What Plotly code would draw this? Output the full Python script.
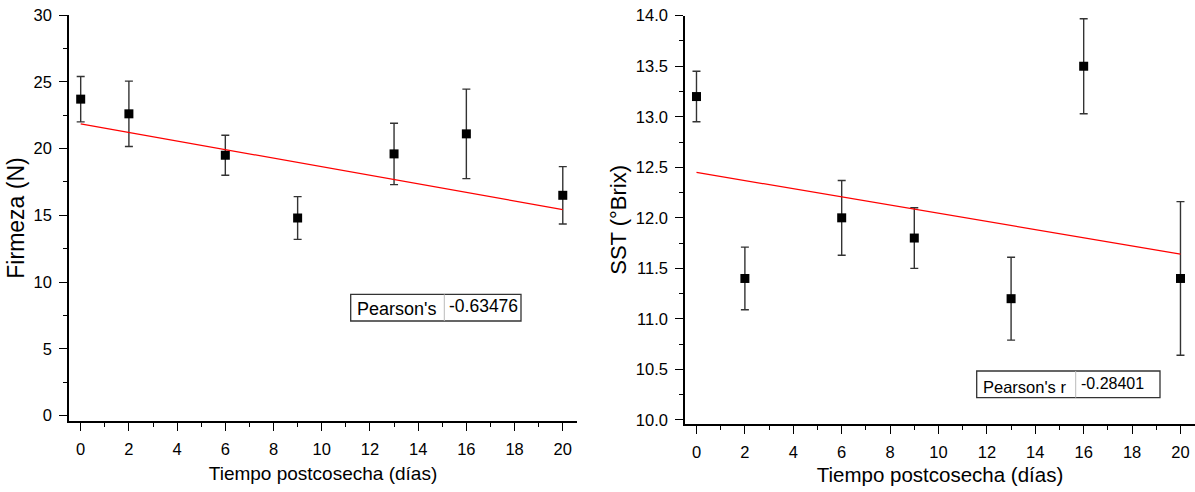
import plotly.graph_objects as go

# ---------------- data ----------------
days = [0, 2, 6, 9, 13, 16, 20]

firmeza = [23.7, 22.6, 19.5, 14.8, 19.6, 21.1, 16.5]
firmeza_err = [1.7, 2.45, 1.5, 1.6, 2.3, 3.35, 2.15]
firmeza_fit = {"intercept": 21.85, "slope": -0.321}
firmeza_r = "-0.63476"

sst = [13.2, 11.4, 12.0, 11.8, 11.2, 13.5, 11.4]
sst_err = [0.25, 0.31, 0.37, 0.30, 0.41, 0.47, 0.76]
sst_fit = {"intercept": 12.45, "slope": -0.0405}
sst_r = "-0.28401"

x_ticks = [0, 2, 4, 6, 8, 10, 12, 14, 16, 18, 20]
firmeza_ticks = [0, 5, 10, 15, 20, 25, 30]
sst_ticks = [10.0, 10.5, 11.0, 11.5, 12.0, 12.5, 13.0, 13.5, 14.0]

W, H = 1195, 492
FONT = "Liberation Sans, Arial, sans-serif"


def px(x):
    return x / W


def py(y):
    return 1 - y / H


fig = go.Figure()

fit_x = [min(days), max(days)]

# left panel
fig.add_trace(go.Scatter(
    x=days, y=firmeza, mode="markers",
    marker=dict(symbol="square", size=9, color="black"),
    error_y=dict(type="data", array=firmeza_err, visible=True,
                 color="#333", thickness=1.4, width=4),
    xaxis="x", yaxis="y", showlegend=False, cliponaxis=False))
fig.add_trace(go.Scatter(
    x=fit_x,
    y=[firmeza_fit["intercept"] + firmeza_fit["slope"] * v for v in fit_x],
    mode="lines", line=dict(color="red", width=1.2),
    xaxis="x", yaxis="y", showlegend=False))

# right panel
fig.add_trace(go.Scatter(
    x=days, y=sst, mode="markers",
    marker=dict(symbol="square", size=9, color="black"),
    error_y=dict(type="data", array=sst_err, visible=True,
                 color="#333", thickness=1.4, width=4),
    xaxis="x2", yaxis="y2", showlegend=False, cliponaxis=False))
fig.add_trace(go.Scatter(
    x=fit_x,
    y=[sst_fit["intercept"] + sst_fit["slope"] * v for v in fit_x],
    mode="lines", line=dict(color="red", width=1.2),
    xaxis="x2", yaxis="y2", showlegend=False))

axis_common = dict(
    showgrid=False, zeroline=False, showline=True, linecolor="black",
    linewidth=1.5, ticks="outside", ticklen=8, tickwidth=1.2,
    tickcolor="black", tickfont=dict(family=FONT, size=16.5, color="black"),
    mirror=False, automargin=False, ticklabelstandoff=4,
)

xa_left = dict(axis_common, domain=[px(69), px(577)], range=[-0.485, 20.59],
               tickvals=x_ticks, anchor="y",
               minor=dict(ticks="outside", ticklen=4, tickwidth=1.2,
                          tickcolor="black", dtick=1, tick0=0),
               title=dict(text="Tiempo postcosecha (días)",
                          font=dict(family=FONT, size=19, color="black"),
                          standoff=10))
ya_left = dict(axis_common, domain=[py(421), py(15)], range=[-0.4, 30],
               tickvals=firmeza_ticks, anchor="x",
               minor=dict(ticks="outside", ticklen=4, tickwidth=1.2,
                          tickcolor="black", dtick=2.5, tick0=0),
               title=dict(text="Firmeza (N)",
                          font=dict(family=FONT, size=23, color="black"),
                          standoff=3))
xa_right = dict(axis_common, domain=[px(685), 1.0], range=[-0.475, 20.6],
                tickvals=x_ticks, anchor="y2",
                minor=dict(ticks="outside", ticklen=4, tickwidth=1.2,
                           tickcolor="black", dtick=1, tick0=0),
                title=dict(text="Tiempo postcosecha (días)",
                           font=dict(family=FONT, size=20.5, color="black"),
                           standoff=8))
ya_right = dict(axis_common, domain=[py(424), py(15.7)], range=[9.96, 14.0],
                tickvals=sst_ticks, tickformat=".1f", anchor="x2",
                minor=dict(ticks="outside", ticklen=4, tickwidth=1.2,
                           tickcolor="black", dtick=0.25, tick0=0),
                title=dict(text="SST (°Brix)",
                           font=dict(family=FONT, size=22, color="black"),
                           standoff=3))

shapes = []
annotations = []


def pearson_box(x0, x1, y0, y1, xdiv, label, value, fsize, label_yc, value_yc):
    shapes.append(dict(type="rect", xref="paper", yref="paper",
                       x0=px(x0), x1=px(x1), y0=py(y1), y1=py(y0),
                       line=dict(color="#333", width=1.3),
                       fillcolor="white", layer="above"))
    shapes.append(dict(type="line", xref="paper", yref="paper",
                       x0=px(xdiv), x1=px(xdiv), y0=py(y1), y1=py(y0),
                       line=dict(color="#bbb", width=1), layer="above"))
    annotations.append(dict(xref="paper", yref="paper", x=px(x0 + 4),
                            y=py(label_yc), text=label, showarrow=False,
                            xanchor="left", yanchor="middle",
                            font=dict(family=FONT, size=fsize, color="black")))
    annotations.append(dict(xref="paper", yref="paper", x=px(xdiv + 3),
                            y=py(value_yc), text=value, showarrow=False,
                            xanchor="left", yanchor="middle",
                            font=dict(family=FONT, size=fsize - 0.5, color="black")))


pearson_box(350.7, 521, 294.3, 321, 444.3, "Pearson's", firmeza_r, 18, 308.5, 306)
pearson_box(976.7, 1160, 371, 397.7, 1075.7, "Pearson's r", sst_r, 16.5, 386.5, 383.5)

fig.update_layout(
    width=W, height=H, margin=dict(l=0, r=0, t=0, b=0, autoexpand=False),
    paper_bgcolor="white", plot_bgcolor="white",
    xaxis=xa_left, yaxis=ya_left, xaxis2=xa_right, yaxis2=ya_right,
    shapes=shapes, annotations=annotations,
    font=dict(family=FONT, color="black"),
)

fig.write_html(
    "out.html",
    config={"displayModeBar": False},
    post_script="document.body.style.margin='0';document.body.style.overflow='hidden';",
)
